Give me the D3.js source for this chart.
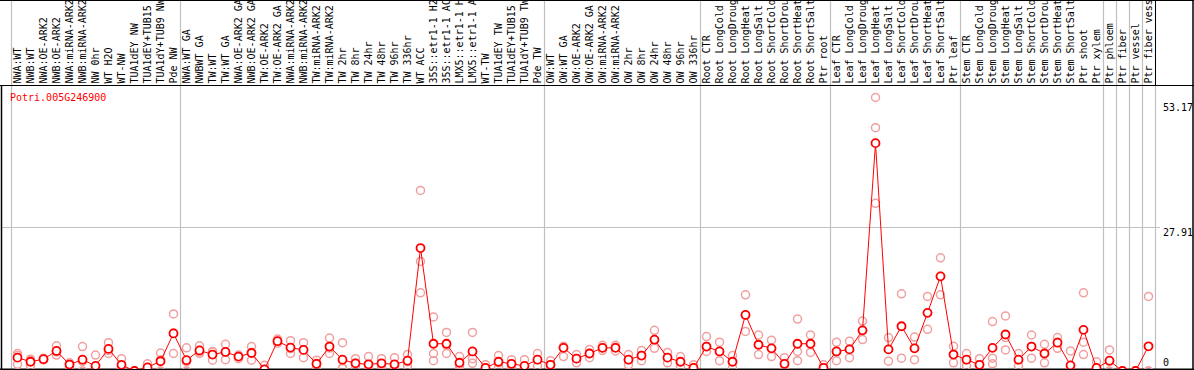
<!DOCTYPE html>
<html><head><meta charset="utf-8">
<script src="https://cdn.jsdelivr.net/npm/d3@7"></script>
<style>
html,body{margin:0;padding:0;background:#fff;}
svg{display:block;}
text{font-family:"DejaVu Sans Mono",monospace;font-size:10px;}
</style></head>
<body>
<svg id="chart" width="1194" height="370"></svg>
<script>
const geneName = "Potri.005G246900";
const categories = ["NWA:WT","NWB:WT","NWA:OE-ARK2","NWB:OE-ARK2","NWA:miRNA-ARK2","NWB:miRNA-ARK2","NW 0hr","WT H2O","WT-NW","TUA1dEY NW","TUA1dEY+TUB15 NW","TUA1dY+TUB9 NW","Pde NW",
"NWA:WT GA","NWBWT GA","TW:WT","TW:WT GA","NWA:OE-ARK2 GA","NWB:OE-ARK2 GA","TW:OE-ARK2","TW:OE-ARK2 GA","NWA:miRNA-ARK2 GA","NWB:miRNA-ARK2 GA","TW:miRNA-ARK2","TW:miRNA-ARK2 GA","TW 2hr","TW 8hr","TW 24hr","TW 48hr","TW 96hr","TW 336hr","WT ACC","35S::etr1-1 H2O","35S::etr1-1 ACC","LMX5::etr1-1 H2O","LMX5::etr1-1 ACC","WT-TW","TUA1dEY TW","TUA1dEY+TUB15 TW","TUA1dY+TUB9 TW","Pde TW",
"OW:WT","OW:WT GA","OW:OE-ARK2","OW:OE-ARK2 GA","OW:miRNA-ARK2","OW:miRNA-ARK2 GA","OW 2hr","OW 8hr","OW 24hr","OW 48hr","OW 96hr","OW 336hr",
"Root CTR","Root LongCold","Root LongDrought","Root LongHeat","Root LongSalt","Root ShortCold","Root ShortDrought","Root ShortHeat","Root ShortSalt","Ptr root",
"Leaf CTR","Leaf LongCold","Leaf LongDrought","Leaf LongHeat","Leaf LongSalt","Leaf ShortCold","Leaf ShortDrought","Leaf ShortHeat","Leaf ShortSalt","Ptr leaf",
"Stem CTR","Stem LongCold","Stem LongDrought","Stem LongHeat","Stem LongSalt","Stem ShortCold","Stem ShortDrought","Stem ShortHeat","Stem ShortSalt","Ptr shoot",
"Ptr xylem","Ptr phloem","Ptr fiber","Ptr vessel","Ptr fiber vessel"];
// index of the last category in each separated group
const groupEnds = [12,40,52,62,72,83,84,85,86,87];

const meanValues = [2.6,1.8,2.3,3.9,1.25,2.2,1.0,4.3,1.2,0,0.7,1.9,7.3,
2.1,4.0,3.2,3.7,2.8,3.5,0.3,5.8,4.55,4.1,1.4,4.75,2.2,1.5,1.3,1.5,1.3,2.0,23.9,5.3,5.3,1.6,3.8,0.6,1.8,1.4,1.0,2.2,
1.2,4.5,2.4,3.4,4.5,4.5,2.2,3.0,6.1,2.6,1.8,0.6,
4.75,3.8,1.8,10.9,5.1,4.4,1.4,5.3,5.3,0.6,
3.8,4.2,7.9,44.3,4.2,8.7,4.4,11.3,18.4,3.2,
2.2,1.2,4.5,7.1,2.2,4.75,3.4,5.5,1.1,8.0,
0.6,2.0,0,0,4.8];
const rep1 = [3.4,2.1,2.5,4.9,1.6,4.75,3.1,5.5,2.4,0,1.4,3.5,11.1,
4.5,4.9,3.8,5.2,3.1,4.75,1.1,6.2,5.9,5.5,2.1,6.4,5.5,2.4,2.8,2.4,2.6,3.2,35.1,10.5,7.5,2.8,7.5,1.2,3.0,2.2,2.2,3.4,
2.0,4.8,3.2,4.2,5.0,5.0,3.2,4.0,7.9,3.6,2.8,1.2,
6.7,5.6,3.0,14.8,7.0,6.0,2.6,10.1,7.0,1.2,
5.6,5.8,9.7,53.17,6.5,15.0,6.6,14.5,22.0,4.8,
3.4,2.4,9.6,10.7,3.4,7.0,5.2,6.5,3.9,15.2,
1.8,4.1,0,0,14.5];
const rep2 = [3.0,1.0,2.2,3.1,1.3,1.85,0,3.4,0.8,0,0.5,2.2,3.4,
1.8,3.4,2.1,2.2,2.4,2.1,0,5.8,3.4,2.6,0.6,3.4,0.6,0.6,0,0.8,0.9,1.0,21.3,3.4,5.0,1.2,2.4,0.5,1.6,1.4,0.6,2.2,
1.2,4.6,2.4,3.4,4.5,4.6,2.2,3.0,6.0,2.6,1.8,0.6,
4.75,3.8,1.8,10.9,5.1,4.4,1.4,3.8,5.3,0.6,
3.8,4.2,7.9,47.3,4.2,8.7,4.4,11.3,18.4,3.2,
2.2,1.2,2.5,6.5,2.2,4.75,3.4,5.6,0,5.6,
0,1.9,0,0,0];
const rep3 = [1.3,2.3,2.2,3.7,0.8,0,0,4.0,0.4,0,0.2,0,7.4,
0,3.7,3.7,3.7,2.9,3.6,0,5.4,4.35,4.2,1.5,4.45,0.5,1.5,1.1,1.3,0.4,1.8,15.2,2.0,3.4,0.8,1.5,0,0.8,0.6,0.2,1.0,
0.4,2.8,1.6,2.6,4.0,3.9,1.2,2.0,4.4,1.6,0.8,0,
3.8,2.0,0.6,7.7,3.2,2.8,0.2,2.0,3.6,0,
2.0,2.6,6.1,32.6,1.9,2.5,2.2,8.1,14.8,1.6,
1.0,0,1.4,4.1,1.0,2.5,1.6,4.4,0,3.2,
0,0,0,0,0];
const yTicks = [0, 27.91, 53.17];

const W = 1194, H = 370;
const svg = d3.select("#chart");
const plotLeft = 11, plotRight = 1155, plotTop = 85, plotBottom = 369;

const x = d3.scaleBand().domain(categories).range([plotLeft, plotRight]).padding(0);
const y = d3.scaleLinear().domain([0, 53.17]).range([371, 97.5]);

// clip for plot region
svg.append("defs").append("clipPath").attr("id","plotclip")
  .append("rect").attr("x",1.5).attr("y",plotTop).attr("width",plotRight-1.5+4).attr("height",plotBottom-plotTop);

// group separator lines (full height)
const sepX = [plotLeft].concat(groupEnds.map(i => x(categories[i]) + x.bandwidth()));
svg.append("g").selectAll("line").data(sepX).join("line")
  .attr("x1", d => Math.round(d)+0.5).attr("x2", d => Math.round(d)+0.5)
  .attr("y1", 0).attr("y2", plotBottom)
  .attr("stroke", "#c0c0c0").attr("stroke-width", 1.2);
// black separator in the label zone at right end
svg.append("line").attr("x1", plotRight+0.5).attr("x2", plotRight+0.5).attr("y1",0).attr("y2",plotTop)
  .attr("stroke","#000").attr("stroke-width",1);

// horizontal grid line for mid tick
svg.append("g").selectAll("line").data(yTicks.filter(v => v > 0 && v < 53)).join("line")
  .attr("x1", 2).attr("x2", 1160)
  .attr("y1", d => Math.round(y(d))+0.5).attr("y2", d => Math.round(y(d))+0.5)
  .attr("stroke","#c0c0c0").attr("stroke-width",1);

// borders
svg.append("line").attr("x1",0).attr("x2",W).attr("y1",0.5).attr("y2",0.5).attr("stroke","#000");
svg.append("line").attr("x1",0).attr("x2",W).attr("y1",plotTop+0.5).attr("y2",plotTop+0.5).attr("stroke","#000");
svg.append("line").attr("x1",0).attr("x2",W).attr("y1",plotBottom+0.5).attr("y2",plotBottom+0.5).attr("stroke","#000").attr("stroke-width",2);
svg.append("line").attr("x1",1.5).attr("x2",1.5).attr("y1",plotTop).attr("y2",H).attr("stroke","#000").attr("stroke-width",1.5);
svg.append("line").attr("x1",W-1).attr("x2",W-1).attr("y1",0).attr("y2",H).attr("stroke","#000").attr("stroke-width",1.5);

// category labels (rotated; the label band clips long names as in the original)
svg.append("defs").append("clipPath").attr("id","labelclip")
  .append("rect").attr("x",0).attr("y",1).attr("width",W).attr("height",plotTop-1);
svg.append("g").attr("clip-path","url(#labelclip)").selectAll("text").data(categories).join("text")
  .attr("transform", d => `translate(${x(d)+x.bandwidth()/2+3.5},${plotTop-1.5}) rotate(-90)`)
  .attr("text-anchor","start")
  .attr("fill","#000")
  .text(d => d);

// y tick labels
svg.append("g").selectAll("text").data(yTicks).join("text")
  .attr("x", 1163)
  .attr("y", d => Math.min(Math.max(y(d) + 9, 111), 366))
  .attr("fill","#000")
  .text(d => d === 0 ? "0" : d.toFixed(2));

// title
svg.append("text").attr("x",10).attr("y",100.5).attr("fill","#ff0000").text(geneName);

const plot = svg.append("g").attr("clip-path","url(#plotclip)");
const cx = d => x(d) + x.bandwidth()/2;

// replicates
[rep1, rep2, rep3].forEach(rep => {
  plot.append("g").selectAll("circle").data(categories).join("circle")
    .attr("cx", d => cx(d)).attr("cy", (d,i) => y(rep[i]))
    .attr("r", 4).attr("fill","none").attr("stroke","#f0a0a0").attr("stroke-width",1.5);
});

// mean line
const line = d3.line().x((d,i) => cx(categories[i])).y(d => y(d));
plot.append("path").datum(meanValues).attr("d", line)
  .attr("fill","none").attr("stroke","#ff0000").attr("stroke-width",1);

// mean markers
plot.append("g").selectAll("circle").data(meanValues).join("circle")
  .attr("cx", (d,i) => cx(categories[i])).attr("cy", d => y(d))
  .attr("r", 4).attr("fill","#fff").attr("stroke","#ff0000").attr("stroke-width",1.8);
</script>
</body></html>
